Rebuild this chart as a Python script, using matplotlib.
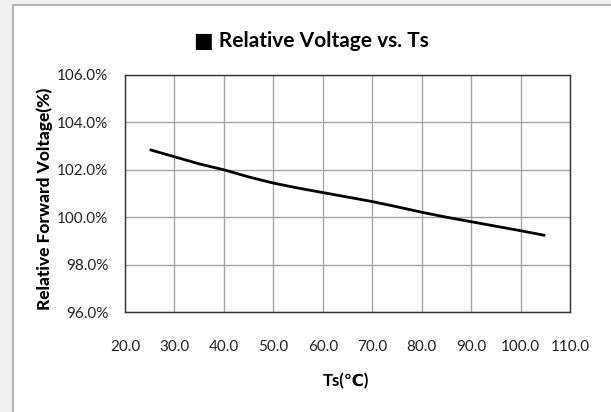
import matplotlib
matplotlib.use("Agg")
import matplotlib.pyplot as plt
from matplotlib.patches import Rectangle
from matplotlib.ticker import FuncFormatter

ts = [25, 30, 35, 40, 45, 50, 55, 60, 65, 70, 75, 80, 85, 90, 95, 100, 105]
rel_v = [102.85, 102.55, 102.25, 102.0, 101.7, 101.44, 101.23, 101.04, 100.85,
         100.66, 100.44, 100.21, 100.0, 99.81, 99.62, 99.43, 99.23]
xticks = [20, 30, 40, 50, 60, 70, 80, 90, 100, 110]
yticks = [96, 98, 100, 102, 104, 106]

fam = ['Lato', 'DejaVu Sans']
plt.rcParams['font.family'] = fam

fig = plt.figure(figsize=(6.11, 4.12), dpi=100, facecolor='#f0f0f0')
fig.patches.append(Rectangle((13/611, -0.1), 1.2, 1 - 5/412 + 0.1, transform=fig.transFigure,
                             facecolor='white', edgecolor='#a8a8a8', linewidth=1.2, zorder=-5))

ax = fig.add_axes([125/611, 1 - 312/412, (570 - 125)/611, (312 - 75)/412])
ax.set_zorder(2)
ax.plot(ts, rel_v, color='black', linewidth=2.0, solid_capstyle='butt')
ax.set_xlim(20, 110)
ax.set_ylim(96, 106)
ax.set_xticks(xticks)
ax.set_yticks(yticks)
ax.xaxis.set_major_formatter(FuncFormatter(lambda v, p: f"{v:.1f}"))
ax.yaxis.set_major_formatter(FuncFormatter(lambda v, p: f"{v:.1f}%"))
ax.grid(True, color='#a6a6a6', linewidth=1.0)
ax.set_axisbelow(True)
ax.tick_params(length=0, labelsize=11, labelcolor='#222222')
ax.tick_params(axis='x', pad=20)
ax.tick_params(axis='y', pad=12)
for s in ax.spines.values():
    s.set_color('#333333')
    s.set_linewidth(1.0)

fig.text(311.5/611, 1 - 41/412, "■ Relative Voltage vs. Ts", ha='center', va='center',
         fontsize=15, fontweight='bold', family=fam)
fig.text(346/611, 1 - 381/412, "Ts(℃)", ha='center', va='center',
         fontsize=12, fontweight='bold', family=fam)
fig.text(45/611, 1 - 199/412, "Relative Forward Voltage(%)", ha='center', va='center',
         rotation=90, fontsize=12.5, fontweight='black', family=fam)

fig.savefig("out.png", dpi=100, facecolor=fig.get_facecolor())
